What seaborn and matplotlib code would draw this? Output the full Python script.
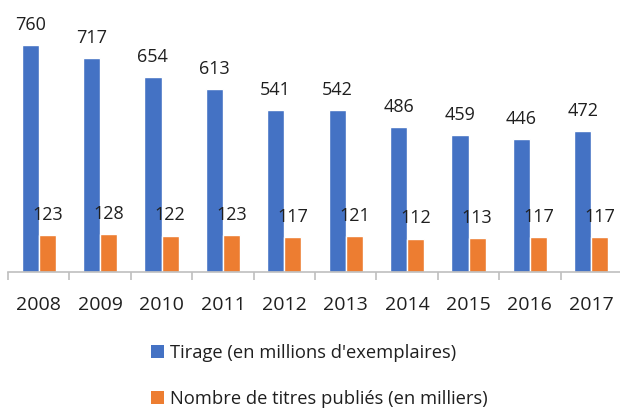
import numpy as np
import pandas as pd
import matplotlib
matplotlib.use('Agg')
import matplotlib.pyplot as plt
from matplotlib.patches import Patch
from matplotlib.ticker import FixedLocator
import seaborn as sns

# Données
annees = ['2008', '2009', '2010', '2011', '2012', '2013', '2014', '2015', '2016', '2017']
tirage = [760, 717, 654, 613, 541, 542, 486, 459, 446, 472]
titres = [123, 128, 122, 123, 117, 121, 112, 113, 117, 117]
series = ["Tirage (en millions d'exemplaires)", "Nombre de titres publiés (en milliers)"]

df = pd.DataFrame({
    'annee': annees * 2,
    'valeur': tirage + titres,
    'serie': [series[0]] * len(annees) + [series[1]] * len(annees),
})

sns.set_style('white')
plt.rcParams['font.family'] = ['Open Sans', 'DejaVu Sans']
couleurs = ['#4472C4', '#ED7D31']
txt = '#1f1f1f'

fig = plt.figure(figsize=(6.2, 4.08), dpi=100)
ax = fig.add_axes([8 / 620, 136 / 408, 614 / 620, 239 / 408])

sns.barplot(data=df, x='annee', y='valeur', hue='serie', palette=couleurs,
            width=0.56, gap=0, saturation=1, legend=False, ax=ax)

for cont in ax.containers:
    ax.bar_label(cont, padding=8, fontsize=13, color=txt)

ax.set_xlim(-0.5, 9.5)
ax.set_ylim(0, 800)
ax.set_xlabel('')
ax.set_ylabel('')
ax.set_yticks([])
for s in ['top', 'right', 'left']:
    ax.spines[s].set_visible(False)
ax.spines['bottom'].set_color('#BFBFBF')
ax.spines['bottom'].set_linewidth(1.2)

ax.xaxis.set_minor_locator(FixedLocator(np.arange(-0.5, 10, 1)))
ax.tick_params(axis='x', which='major', length=0, pad=17, labelsize=14, labelcolor=txt)
ax.tick_params(axis='x', which='minor', length=6, width=1.2, color='#BFBFBF', bottom=True)

handles = [Patch(facecolor=c, edgecolor='none') for c in couleurs]
fig.legend(handles, series, loc='upper left', bbox_to_anchor=(151 / 620, 1 - 344 / 408),
           frameon=False, fontsize=13.2, labelcolor=txt, handlelength=0.7, handleheight=0.7,
           handletextpad=0.35, labelspacing=1.5, borderaxespad=0, borderpad=0)

fig.savefig('out.png', dpi=100, facecolor='white')
